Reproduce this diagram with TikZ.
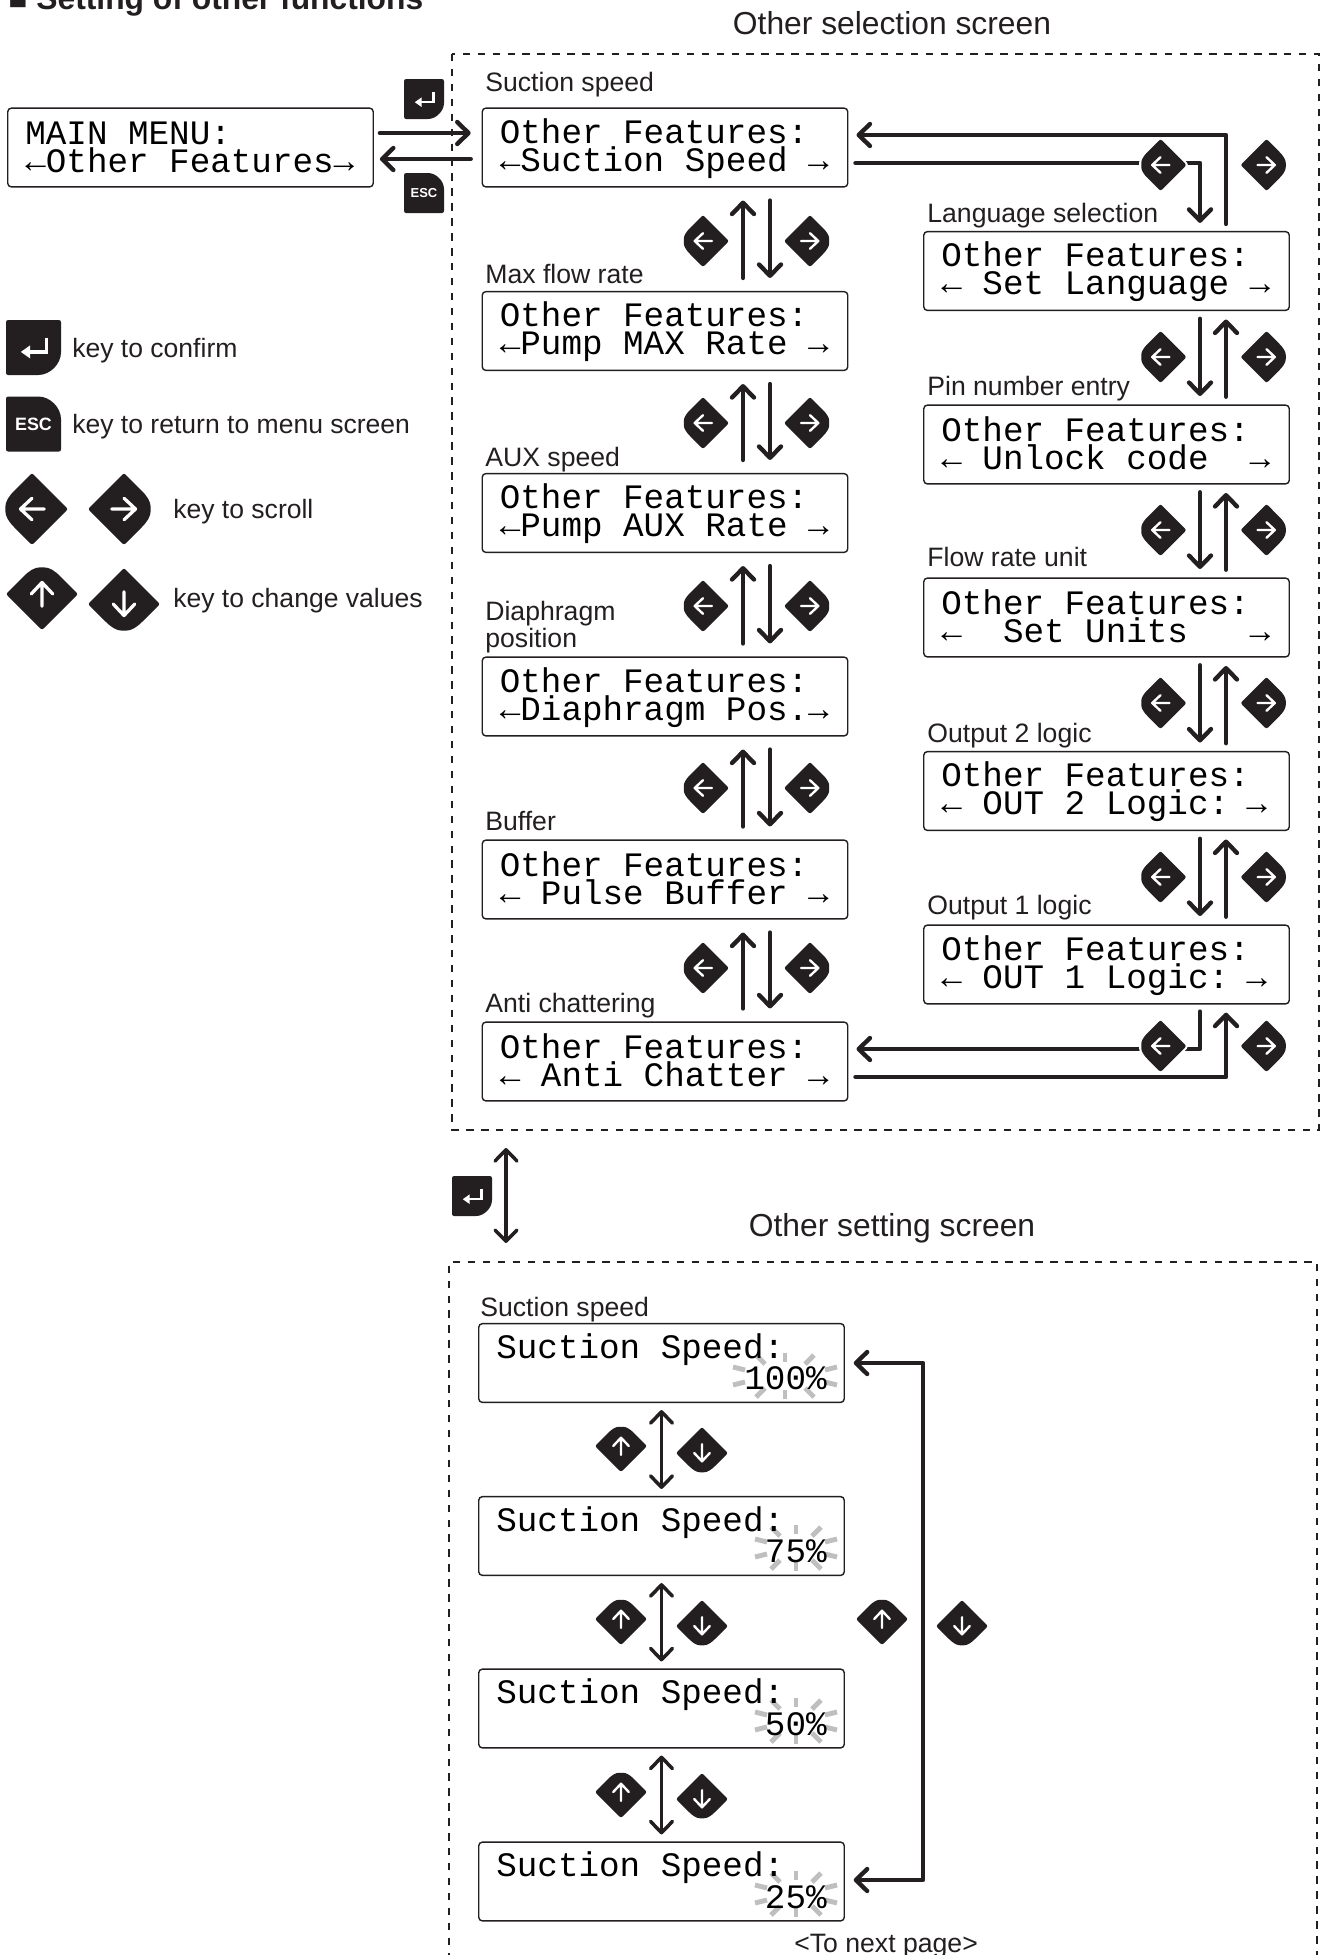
\documentclass[tikz,border=0pt]{standalone}
\usepackage{fontspec}
\setmainfont{Liberation Sans}
\newfontfamily\lcdfont{Liberation Mono}
\usetikzlibrary{arrows.meta,calc}
\definecolor{keyblack}{HTML}{231F20}
\newcommand{\lcdsetup}{\fontsize{19.5pt}{15.87pt}\lcdfont\relax}
\newcommand{\lcdtext}[2]{\lineskiplimit=-30pt\relax\spaceskip=0.6em\relax\rule{0pt}{15.1pt}#1\\\rule[-2.5pt]{0pt}{2.5pt}#2}
\newcommand{\flash}[4]{%
  \foreach \sx in {-1,1} {
    \draw[flashray] ({#1+\sx*#3},#2-6) -- ({#1+\sx*(#3+12)},#2-9);
    \draw[flashray] ({#1+\sx*#3},#2+6) -- ({#1+\sx*(#3+12)},#2+9);
    \draw[flashray] ({#1+\sx*#4},#2-12) -- ({#1+\sx*(#4+9)},#2-21);
    \draw[flashray] ({#1+\sx*#4},#2+12) -- ({#1+\sx*(#4+9)},#2+21);
    \draw[flashray] (#1,{#2+\sx*14}) -- (#1,{#2+\sx*23});
  }}
\tikzset{
  barb/.tip={Straight Barb[length=6.4pt,width=12.5pt,round]},
  flow/.style={line width=2.5pt,line cap=round,line join=round,keyblack,-barb},
  twoway/.style={flow,barb-barb},
  thinway/.style={twoway,line width=2pt},
  leftgap/.style={shorten <=7.4pt,shorten >=7.4pt},
  rightgap/.style={shorten <=4.4pt,shorten >=4.8pt},
  gap/.style={shorten <=4pt,shorten >=4.6pt},
  lcd/.style={draw=keyblack,line width=0.8pt,rounded corners=2pt,inner sep=0pt,
    minimum width=208pt,minimum height=44.8pt,text width=188pt,align=left,
    text=black,font=\lcdsetup},
  tag/.style={anchor=base west,inner sep=0pt,text=keyblack,align=left,
    font=\fontsize{15.15pt}{13pt}\selectfont},
  hint/.style={anchor=base west,inner sep=0pt,text=keyblack,
    font=\fontsize{15.1pt}{16pt}\selectfont},
  head/.style={inner sep=0pt,text=keyblack,font=\fontsize{18.1pt}{20pt}\selectfont},
  frame/.style={keyblack,line width=0.75pt,dash pattern=on 4.2pt off 4.3pt},
  flashray/.style={line width=2.8pt,black!25},
  leafkey/.pic={
    \fill[keyblack,scale=#1,rounded corners=1.2pt,preaction={draw=white,line width=2.4pt}]
      (-1,0) -- (0,1) -- (0.45,0.55) .. controls (0.65,0.35) and (0.74,0.2) .. (0.74,0)
      .. controls (0.74,-0.2) and (0.65,-0.35) .. (0.45,-0.55) -- (0,-1) -- cycle;
    \draw[white,scale=#1,line width=#1*0.052pt,line cap=round,line join=round]
      (-0.34,0) -- (0.32,0) (0,-0.3) -- (0.32,0) -- (0,0.3);
  },
  enterkey/.pic={
    \fill[keyblack,scale=#1,rounded corners=1.2pt] (-1,-1) -- (1,-1) -- (1,0.1)
      .. controls (1,0.6) and (0.6,1) .. (0.1,1) -- (-1,1) -- cycle;
    \draw[white,scale=#1,line width=#1*0.07pt] (0.48,-0.36) -- (0.48,0.16) -- (-0.2,0.16);
    \fill[white,scale=#1] (-0.46,0.16) -- (-0.12,-0.08) -- (-0.12,0.4) -- cycle;
  },
  esckey/.pic={
    \fill[keyblack,scale=#1,rounded corners=1.2pt] (-1,1) -- (1,1) -- (1,-0.1)
      .. controls (1,-0.6) and (0.6,-1) .. (0.1,-1) -- (-1,-1) -- cycle;
    \pgfmathsetmacro\escsize{#1*0.37}
    \node[inner sep=0pt,text=white,font=\bfseries\fontsize{\escsize pt}{\escsize pt}\selectfont] (-label) {ESC};
  },
}
\begin{document}
\begin{tikzpicture}[x=0.02cm,y=-0.02cm]
\useasboundingbox (0,0) rectangle (1322,1955);
\node[anchor=base west,inner sep=0pt,text=keyblack,font=\bfseries\fontsize{18.1pt}{20pt}\selectfont] (title) at (8,9) {■ Setting of other functions};
\node[head] (selhead) at (892,23) {Other selection screen};
\node[head] (sethead) at (892,1228) {Other setting screen};
\draw[frame] (452,54) rectangle (1319,1130);
\draw[frame] (449,1960) -- (449,1262) -- (1317,1262) -- (1317,1960);
\flash{785}{1376}{40}{20}
\flash{796}{1548}{29}{16}
\flash{796}{1721}{29}{16}
\flash{796}{1894}{29}{16}
% screens
\node[lcd] (main) at (190.5,147.5) {\lcdtext{MAIN MENU:}{←Other Features→}};
\node[lcd] (sel1) at (665,147.5) {\lcdtext{Other Features:}{←Suction Speed →}};
\node[lcd] (sel2) at (665,331) {\lcdtext{Other Features:}{←Pump MAX Rate →}};
\node[lcd] (sel3) at (665,513) {\lcdtext{Other Features:}{←Pump AUX Rate →}};
\node[lcd] (sel4) at (665,696.5) {\lcdtext{Other Features:}{←Diaphragm Pos.→}};
\node[lcd] (sel5) at (665,879.5) {\lcdtext{Other Features:}{← Pulse Buffer →}};
\node[lcd] (sel6) at (665,1061.5) {\lcdtext{Other Features:}{← Anti Chatter →}};
\node[lcd] (opt1) at (1106.5,271) {\lcdtext{Other Features:}{← Set Language →}};
\node[lcd] (opt2) at (1106.5,444.5) {\lcdtext{Other Features:}{← Unlock code~~→}};
\node[lcd] (opt3) at (1106.5,617.5) {\lcdtext{Other Features:}{←~~Set Units~~~→}};
\node[lcd] (opt4) at (1106.5,791) {\lcdtext{Other Features:}{← OUT 2 Logic: →}};
\node[lcd] (opt5) at (1106.5,964.5) {\lcdtext{Other Features:}{← OUT 1 Logic: →}};
\node[lcd] (set1) at (661.5,1363) {\lcdtext{Suction Speed:}{\hspace*{\fill}100\%}};
\node[lcd] (set2) at (661.5,1536) {\lcdtext{Suction Speed:}{\hspace*{\fill}75\%}};
\node[lcd] (set3) at (661.5,1708.5) {\lcdtext{Suction Speed:}{\hspace*{\fill}50\%}};
\node[lcd] (set4) at (661.5,1881.5) {\lcdtext{Suction Speed:}{\hspace*{\fill}25\%}};
% labels
\node[tag] (tag1) at (485,91) {Suction speed};
\node[tag] (tag2) at (485,283) {Max flow rate};
\node[tag] (tag3) at (485,466) {AUX speed};
\node[tag] (tag4) at (485,647) {Diaphragm\\position};
\node[tag] (tag5) at (485,830) {Buffer};
\node[tag] (tag6) at (485,1012) {Anti chattering};
\node[tag] (tag7) at (927,222) {Language selection};
\node[tag] (tag8) at (927,395) {Pin number entry};
\node[tag] (tag9) at (927,566) {Flow rate unit};
\node[tag] (tag10) at (927,742) {Output 2 logic};
\node[tag] (tag11) at (927,914) {Output 1 logic};
\node[tag] (tag12) at (480,1316) {Suction speed};
\node[tag] (nextpage) at (794,1952) {<To next page>};
\node[hint] (hint1) at (72,357) {key to confirm};
\node[hint] (hint2) at (72,433) {key to return to menu screen};
\node[hint] (hint3) at (173,518) {key to scroll};
\node[hint] (hint4) at (173,607) {key to change values};
% connectors
\draw[flow,shorten <=3.4pt,shorten >=6.2pt] (main.east |- 0,133) -- (sel1.west |- 0,133);
\draw[flow,shorten <=6.2pt,shorten >=3.4pt] (sel1.west |- 0,159) -- (main.east |- 0,159);
\foreach \a/\b in {sel1/sel2,sel2/sel3,sel3/sel4,sel4/sel5,sel5/sel6} {
  \draw[flow,leftgap] (743,0 |- \b.north) -- (743,0 |- \a.south);
  \draw[flow,leftgap] (770,0 |- \a.south) -- (770,0 |- \b.north);
}
\foreach \a/\b in {opt1/opt2,opt2/opt3,opt3/opt4,opt4/opt5} {
  \draw[flow,rightgap] (1200,0 |- \a.south) -- (1200,0 |- \b.north);
  \draw[flow,rightgap] (1226,0 |- \b.north) -- (1226,0 |- \a.south);
}
\coordinate (backturn) at (1226,135);
\coordinate (gototurn) at (1200,163);
\coordinate (lastturn) at (1200,1049);
\coordinate (wrapturn) at (1226,1077);
\draw[flow,gap] (backturn |- opt1.north) -- (backturn) -- (backturn -| sel1.east);
\draw[flow,gap] (gototurn -| sel1.east) -- (gototurn) -- (gototurn |- opt1.north);
\draw[flow,gap] (lastturn |- opt5.south) -- (lastturn) -- (lastturn -| sel6.east);
\draw[flow,gap] (wrapturn -| sel6.east) -- (wrapturn) -- (wrapturn |- opt5.south);
\foreach \a/\b in {set1/set2,set2/set3,set3/set4} {
  \draw[thinway,shorten <=4pt,shorten >=4pt] (\a.south) -- (\b.north);
}
\coordinate (entertop) at (506,1148);
\coordinate (enterlow) at (506,1243);
\draw[thinway] (entertop) -- (enterlow);
\coordinate (loophigh) at (923,1363);
\coordinate (looplow) at (923,1880);
\draw[twoway,shorten <=5pt,shorten >=5pt] (loophigh -| set1.east) -- (loophigh) -- (looplow) -- (looplow -| set4.east);
% keys
\pic at (424,99) {enterkey=20};
\pic (topesc) at (424,193) {esckey=20};
\pic at (472,1196) {enterkey=20};
\pic at (33.5,347.5) {enterkey=27.5};
\pic (hintesc) at (33.5,424) {esckey=27.5};
\pic[rotate=180] at (32,509) {leafkey=36};
\pic at (124,509) {leafkey=36};
\pic[rotate=90] at (42,594) {leafkey=36};
\pic[rotate=-90] at (124,604) {leafkey=36};
\foreach \y in {241,423,606,788,968} {
  \pic[rotate=180] at (703,\y) {leafkey=26};
  \pic at (810,\y) {leafkey=26};
}
\foreach \y in {165,357,530,703,877,1046} {
  \pic[rotate=180] at (1160.5,\y) {leafkey=26};
  \pic at (1266.5,\y) {leafkey=26};
}
\foreach \y in {0,173,346} {
  \pic[rotate=90] at (621,1446+\y) {leafkey=26};
  \pic[rotate=-90] at (702,1453+\y) {leafkey=26};
}
\pic[rotate=90] at (882,1619) {leafkey=26};
\pic[rotate=-90] at (962,1626) {leafkey=26};
\end{tikzpicture}
\end{document}
